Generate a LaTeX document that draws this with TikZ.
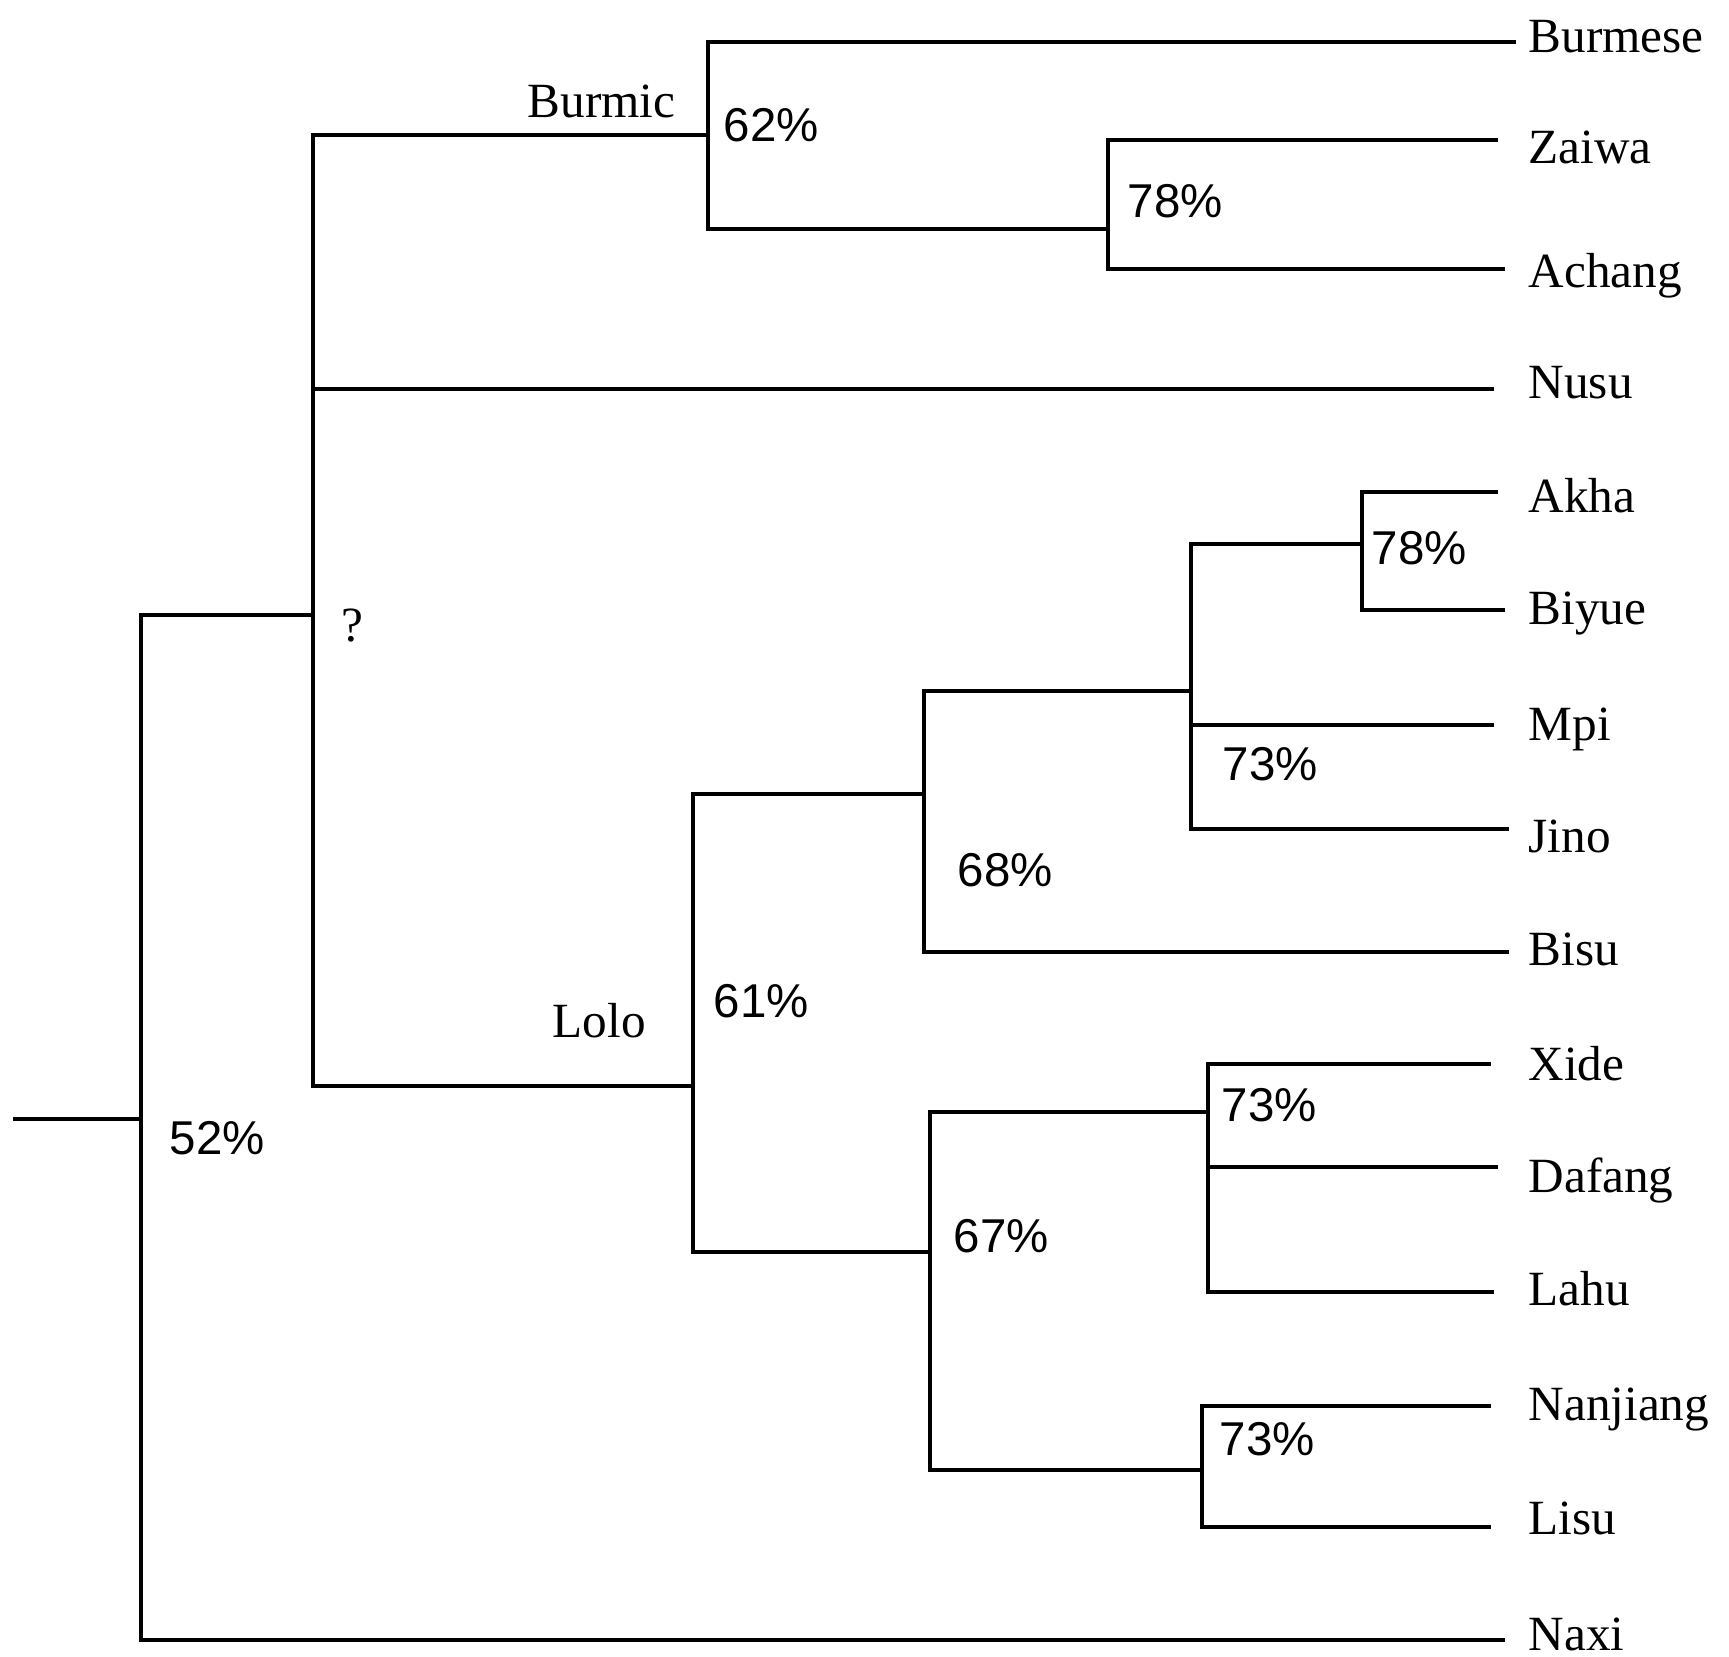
\documentclass[tikz,border=0pt]{standalone}
\usepackage{fontspec}
\setmainfont{Liberation Serif}
\newfontfamily\pctfont{Liberation Sans}
\usepackage{tikz}
\usetikzlibrary{positioning}

\begin{document}
\begin{tikzpicture}[x=0.01cm,y=-0.01cm,
  br/.style={line width=1.3pt},
  leaf/.style={anchor=base west,inner sep=0pt,font=\fontsize{14}{16}\selectfont},
  grp/.style={anchor=west,inner sep=0pt,font=\fontsize{14}{16}\selectfont},
  pct/.style={anchor=west,inner sep=0pt,font=\pctfont\fontsize{13.5}{16}\selectfont}]
  \useasboundingbox (0,0) rectangle (1729,1656);
  % Internal nodes (x of the vertical bar, y where the parent joins)
  \coordinate (stub) at (13,1119);
  \coordinate (root) at (141,1119);
  \coordinate (nq) at (313,615);
  \coordinate (nbur) at (708,135);
  \coordinate (nza) at (1108,229);
  \coordinate (nlolo) at (693,1086);
  \coordinate (n68) at (924,794);
  \coordinate (n73a) at (1191,691);
  \coordinate (n78) at (1362,544);
  \coordinate (n67) at (930,1252);
  \coordinate (n73b) at (1208,1112);
  \coordinate (n73c) at (1202,1470);
  % Leaf ends
  \coordinate (burmese) at (1516,42);
  \coordinate (zaiwa) at (1498,140);
  \coordinate (achang) at (1505,269);
  \coordinate (nusu) at (1494,389);
  \coordinate (akha) at (1498,492);
  \coordinate (biyue) at (1505,610);
  \coordinate (mpi) at (1494,725);
  \coordinate (jino) at (1509,829);
  \coordinate (bisu) at (1509,952);
  \coordinate (xide) at (1491,1064);
  \coordinate (dafang) at (1498,1167);
  \coordinate (lahu) at (1494,1292);
  \coordinate (nanjiang) at (1491,1406);
  \coordinate (lisu) at (1491,1527);
  \coordinate (naxi) at (1505,1640);
  % Branches
  \draw[br] (stub) -- (root);
  \draw[br] (root) |- (nq);
  \draw[br] (root) |- (naxi);
  \draw[br] (nq) |- (nbur);
  \draw[br] (nq) |- (nusu);
  \draw[br] (nq) |- (nlolo);
  \draw[br] (nbur) |- (burmese);
  \draw[br] (nbur) |- (nza);
  \draw[br] (nza) |- (zaiwa);
  \draw[br] (nza) |- (achang);
  \draw[br] (nlolo) |- (n68);
  \draw[br] (nlolo) |- (n67);
  \draw[br] (n68) |- (n73a);
  \draw[br] (n68) |- (bisu);
  \draw[br] (n73a) |- (n78);
  \draw[br] (n73a) |- (mpi);
  \draw[br] (n73a) |- (jino);
  \draw[br] (n78) |- (akha);
  \draw[br] (n78) |- (biyue);
  \draw[br] (n67) |- (n73b);
  \draw[br] (n67) |- (n73c);
  \draw[br] (n73b) |- (xide);
  \draw[br] (n73b) |- (dafang);
  \draw[br] (n73b) |- (lahu);
  \draw[br] (n73c) |- (nanjiang);
  \draw[br] (n73c) |- (lisu);
  % Percentages and group names
  \node[pct] (p52) at (169,1138) {52\%};
  \node[grp] (pq) at (341,626) {?};
  \node[pct] (p62) at (723,125) {62\%};
  \node[pct] (p78a) at (1127,201) {78\%};
  \node[pct] (p61) at (713,1001) {61\%};
  \node[pct] (p68) at (957,870) {68\%};
  \node[pct] (p73a) at (1222,764) {73\%};
  \node[pct] (p78b) at (1371,548) {78\%};
  \node[pct] (p67) at (953,1236) {67\%};
  \node[pct] (p73b) at (1221,1105) {73\%};
  \node[pct] (p73c) at (1219,1439) {73\%};
  \node[grp] (gbur) at (527,101) {Burmic};
  \node[grp] (glolo) at (552,1021) {Lolo};
  % Languages
  \node[leaf] (tburmese) at (1528,52) {Burmese};
  \node[leaf] (tzaiwa) at (1528,163) {Zaiwa};
  \node[leaf] (tachang) at (1528,287) {Achang};
  \node[leaf] (tnusu) at (1528,398) {Nusu};
  \node[leaf] (takha) at (1528,512) {Akha};
  \node[leaf] (tbiyue) at (1528,624) {Biyue};
  \node[leaf] (tmpi) at (1528,740) {Mpi};
  \node[leaf] (tjino) at (1528,852) {Jino};
  \node[leaf] (tbisu) at (1528,965) {Bisu};
  \node[leaf] (txide) at (1528,1080) {Xide};
  \node[leaf] (tdafang) at (1528,1192) {Dafang};
  \node[leaf] (tlahu) at (1528,1305) {Lahu};
  \node[leaf] (tnanjiang) at (1528,1420) {Nanjiang};
  \node[leaf] (tlisu) at (1528,1534) {Lisu};
  \node[leaf] (tnaxi) at (1528,1650) {Naxi};
\end{tikzpicture}
\end{document}
